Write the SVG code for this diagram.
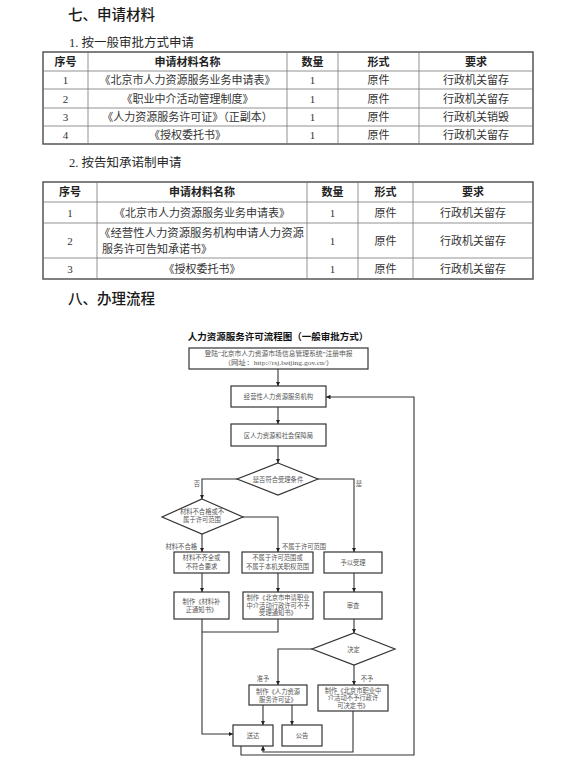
<svg xmlns="http://www.w3.org/2000/svg" width="567" height="770" viewBox="0 0 567 770">
<style>
.bg{fill:#fff}
.h1{font-family:"Noto Sans CJK SC","Liberation Sans",sans-serif;font-size:14.5px;font-weight:500;fill:#1a1a1a}
.h2{font-family:"Liberation Serif","Noto Sans CJK SC",serif;font-size:12.5px;fill:#2a2a2a}
.th{font-family:"Noto Sans CJK SC","Liberation Sans",sans-serif;font-size:11px;font-weight:bold;fill:#222;text-anchor:middle}
.td{font-family:"Liberation Serif","Noto Sans CJK SC",serif;font-size:11px;fill:#333;text-anchor:middle}
.tl{font-family:"Liberation Serif","Noto Sans CJK SC",serif;font-size:11px;fill:#333}
.outer{fill:none;stroke:#555;stroke-width:1.5}
.inner{stroke:#777;stroke-width:0.8;fill:none}
.ft{font-family:"Noto Sans CJK SC","Liberation Sans",sans-serif;font-size:9.5px;font-weight:bold;fill:#111;text-anchor:middle}
.box{fill:#fff;stroke:#333;stroke-width:1.2}
.fx{font-family:"Liberation Serif","Noto Sans CJK SC",serif;font-size:6.3px;fill:#555;text-anchor:middle}
.fs{font-family:"Liberation Serif","Noto Sans CJK SC",serif;font-size:6.3px;fill:#555}
.ln{fill:none;stroke:#333;stroke-width:1.1}
</style>
<defs>
<marker id="ah" viewBox="0 0 10 10" refX="10" refY="5" markerWidth="4.5" markerHeight="4.5" markerUnits="userSpaceOnUse" orient="auto">
<path d="M0,0 L10,5 L0,10 z" fill="#222"/>
</marker>
</defs>
<rect class="bg" x="0" y="0" width="567" height="770"/>

<g id="section7">
<text class="h1" x="68" y="20">七、申请材料</text>
<text class="h2" x="69" y="47">1. 按一般审批方式申请</text>
</g>

<g id="table1">
<rect class="outer" x="43" y="52" width="490" height="92"/>
<line class="inner" x1="43" y1="71" x2="533" y2="71"/>
<line class="inner" x1="43" y1="89" x2="533" y2="89"/>
<line class="inner" x1="43" y1="108" x2="533" y2="108"/>
<line class="inner" x1="43" y1="126" x2="533" y2="126"/>
<line class="inner" x1="88" y1="52" x2="88" y2="144"/>
<line class="inner" x1="287" y1="52" x2="287" y2="144"/>
<line class="inner" x1="338" y1="52" x2="338" y2="144"/>
<line class="inner" x1="419" y1="52" x2="419" y2="144"/>
<text class="th" x="65.5" y="65.5">序号</text>
<text class="th" x="187.5" y="65.5">申请材料名称</text>
<text class="th" x="312.5" y="65.5">数量</text>
<text class="th" x="378.5" y="65.5">形式</text>
<text class="th" x="476" y="65.5">要求</text>
<text class="td" x="65.5" y="84">1</text>
<text class="td" x="187.5" y="84">《北京市人力资源服务业务申请表》</text>
<text class="td" x="312.5" y="84">1</text>
<text class="td" x="378.5" y="84">原件</text>
<text class="td" x="476" y="84">行政机关留存</text>
<text class="td" x="65.5" y="102.5">2</text>
<text class="td" x="187.5" y="102.5">《职业中介活动管理制度》</text>
<text class="td" x="312.5" y="102.5">1</text>
<text class="td" x="378.5" y="102.5">原件</text>
<text class="td" x="476" y="102.5">行政机关留存</text>
<text class="td" x="65.5" y="121">3</text>
<text class="td" x="187.5" y="121">《人力资源服务许可证》（正副本）</text>
<text class="td" x="312.5" y="121">1</text>
<text class="td" x="378.5" y="121">原件</text>
<text class="td" x="476" y="121">行政机关销毁</text>
<text class="td" x="65.5" y="139">4</text>
<text class="td" x="187.5" y="139">《授权委托书》</text>
<text class="td" x="312.5" y="139">1</text>
<text class="td" x="378.5" y="139">原件</text>
<text class="td" x="476" y="139">行政机关留存</text>
</g>

<g id="subhead2">
<text class="h2" x="69" y="167">2. 按告知承诺制申请</text>
</g>

<g id="table2">
<rect class="outer" x="43" y="182" width="490" height="97"/>
<line class="inner" x1="43" y1="202" x2="533" y2="202"/>
<line class="inner" x1="43" y1="223" x2="533" y2="223"/>
<line class="inner" x1="43" y1="258" x2="533" y2="258"/>
<line class="inner" x1="97" y1="182" x2="97" y2="279"/>
<line class="inner" x1="307" y1="182" x2="307" y2="279"/>
<line class="inner" x1="358" y1="182" x2="358" y2="279"/>
<line class="inner" x1="413" y1="182" x2="413" y2="279"/>
<text class="th" x="70" y="196">序号</text>
<text class="th" x="202" y="196">申请材料名称</text>
<text class="th" x="332.5" y="196">数量</text>
<text class="th" x="385.5" y="196">形式</text>
<text class="th" x="473" y="196">要求</text>
<text class="td" x="70" y="216.5">1</text>
<text class="td" x="202" y="216.5">《北京市人力资源服务业务申请表》</text>
<text class="td" x="332.5" y="216.5">1</text>
<text class="td" x="385.5" y="216.5">原件</text>
<text class="td" x="473" y="216.5">行政机关留存</text>
<text class="td" x="70" y="244.5">2</text>
<text class="tl" x="99" y="237" textLength="205" lengthAdjust="spacingAndGlyphs">《经营性人力资源服务机构申请人力资源</text>
<text class="tl" x="102" y="253">服务许可告知承诺书》</text>
<text class="td" x="332.5" y="244.5">1</text>
<text class="td" x="385.5" y="244.5">原件</text>
<text class="td" x="473" y="244.5">行政机关留存</text>
<text class="td" x="70" y="272.5">3</text>
<text class="td" x="202" y="272.5">《授权委托书》</text>
<text class="td" x="332.5" y="272.5">1</text>
<text class="td" x="385.5" y="272.5">原件</text>
<text class="td" x="473" y="272.5">行政机关留存</text>
</g>

<g id="section8">
<text class="h1" x="68" y="304">八、办理流程</text>
</g>

<g id="flow-title">
<text class="ft" x="278" y="340">人力资源服务许可流程图（一般审批方式）</text>
</g>

<g id="connectors">
<line class="ln" x1="278" y1="369" x2="278" y2="386" marker-end="url(#ah)"/>
<line class="ln" x1="278" y1="407" x2="278" y2="424" marker-end="url(#ah)"/>
<line class="ln" x1="278" y1="446" x2="278" y2="463" marker-end="url(#ah)"/>
<polyline class="ln" points="237,479 202,479 202,499" marker-end="url(#ah)"/>
<polyline class="ln" points="318,479 354,479 354,552" marker-end="url(#ah)"/>
<line class="ln" x1="202" y1="534" x2="202" y2="552" marker-end="url(#ah)"/>
<polyline class="ln" points="243,517 278,517 278,552" marker-end="url(#ah)"/>
<line class="ln" x1="202" y1="573" x2="202" y2="592" marker-end="url(#ah)"/>
<line class="ln" x1="278" y1="573" x2="278" y2="592" marker-end="url(#ah)"/>
<line class="ln" x1="354" y1="573" x2="354" y2="592" marker-end="url(#ah)"/>
<polyline class="ln" points="202,619 202,734 233,734" marker-end="url(#ah)"/>
<polyline class="ln" points="278,619 278,632 202,632"/>
<line class="ln" x1="354" y1="619" x2="354" y2="633" marker-end="url(#ah)"/>
<polyline class="ln" points="312,649 278,649 278,685" marker-end="url(#ah)"/>
<line class="ln" x1="354" y1="665" x2="354" y2="685" marker-end="url(#ah)"/>
<line class="ln" x1="263" y1="705" x2="263" y2="725" marker-end="url(#ah)"/>
<line class="ln" x1="292" y1="705" x2="292" y2="725" marker-end="url(#ah)"/>
<polyline class="ln" points="353,711 353,752 263,752 263,746" marker-end="url(#ah)"/>
<polyline class="ln" points="241,746 241,755 414,755 414,397 326,397" marker-end="url(#ah)"/>
<text class="fx" x="197" y="485.5">否</text>
<text class="fx" x="359" y="485.5">是</text>
<text class="fs" x="197" y="548.5" text-anchor="end">材料不合格</text>
<text class="fs" x="282" y="548.5">不属于许可范围</text>
<text class="fx" x="263" y="680.5">准予</text>
<text class="fx" x="367" y="680.5">不予</text>
</g>

<g id="n-login">
<rect class="box" x="189" y="348" width="179" height="21"/>
<text class="fx" x="278.5" y="356.4" textLength="148" lengthAdjust="spacingAndGlyphs">登陆“北京市人力资源市场信息管理系统”注册申报</text>
<text class="fx" x="278.5" y="365.4" textLength="110" lengthAdjust="spacingAndGlyphs">（网址：http://rsj.beijing.gov.cn/）</text>
</g>
<g id="n-agency">
<rect class="box" x="231" y="386" width="95" height="21"/>
<text class="fx" x="278.5" y="399">经营性人力资源服务机构</text>
</g>
<g id="n-bureau">
<rect class="box" x="231" y="424" width="95" height="22"/>
<text class="fx" x="278.5" y="437.5">区人力资源和社会保障局</text>
</g>
<g id="n-cond">
<polygon class="box" points="278,463 318,479 278,495 237,479"/>
<text class="fx" x="278" y="481.5">是否符合受理条件</text>
</g>
<g id="n-cond2">
<polygon class="box" points="202,499 243,517 202,534 162,517"/>
<text class="fx" x="202" y="514.2">材料不合格或不</text>
<text class="fx" x="202" y="521.8">属于许可范围</text>
</g>
<g id="n-incomplete">
<rect class="box" x="174" y="552" width="55" height="21"/>
<text class="fx" x="201.5" y="560.4">材料不齐全或</text>
<text class="fx" x="201.5" y="569.2">不符合要求</text>
</g>
<g id="n-outscope">
<rect class="box" x="242" y="552" width="71" height="21"/>
<text class="fx" x="277.5" y="560.4">不属于许可范围或</text>
<text class="fx" x="277.5" y="569.2">不属于本机关职权范围</text>
</g>
<g id="n-accept">
<rect class="box" x="324" y="552" width="58" height="21"/>
<text class="fx" x="353" y="565">予以受理</text>
</g>
<g id="n-notice">
<rect class="box" x="174" y="592" width="55" height="27"/>
<text class="fx" x="201.5" y="604.2">制作《材料补</text>
<text class="fx" x="201.5" y="612">正通知书》</text>
</g>
<g id="n-reject">
<rect class="box" x="243" y="592" width="70" height="27"/>
<text class="fx" x="278" y="599.8">制作《北京市申请职业</text>
<text class="fx" x="278" y="607.5">中介活动行政许可不予</text>
<text class="fx" x="278" y="615.2">受理通知书》</text>
</g>
<g id="n-review">
<rect class="box" x="324" y="592" width="58" height="27"/>
<text class="fx" x="353" y="608">审查</text>
</g>
<g id="n-decide">
<polygon class="box" points="354,633 395,649 354,665 312,649"/>
<text class="fx" x="353.5" y="651.5">决定</text>
</g>
<g id="n-license">
<rect class="box" x="249" y="685" width="58" height="20"/>
<text class="fx" x="278" y="694.2">制作《人力资源</text>
<text class="fx" x="278" y="701.8">服务许可证》</text>
</g>
<g id="n-deny">
<rect class="box" x="318" y="685" width="70" height="26"/>
<text class="fx" x="353" y="692.5">制作《北京市职业中</text>
<text class="fx" x="353" y="699.8">介活动不予行政许</text>
<text class="fx" x="353" y="707.5">可决定书》</text>
</g>
<g id="n-deliver">
<rect class="box" x="233" y="725" width="40" height="21"/>
<text class="fx" x="253" y="738">送达</text>
</g>
<g id="n-announce">
<rect class="box" x="282" y="725" width="40" height="21"/>
<text class="fx" x="302" y="738">公告</text>
</g>
</svg>
